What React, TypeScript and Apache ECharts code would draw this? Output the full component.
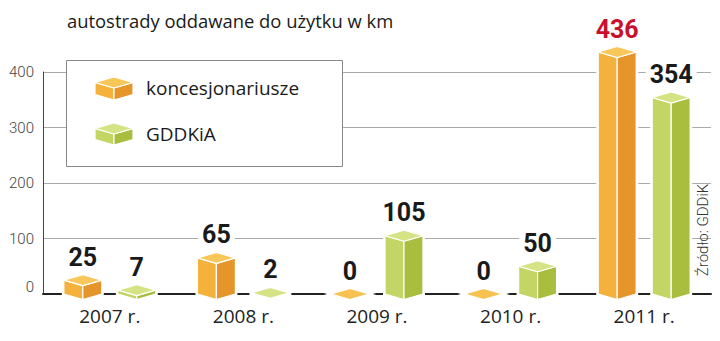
import React, { useEffect, useRef } from "react";
import * as echarts from "echarts";

const categories = ["2007 r.", "2008 r.", "2009 r.", "2010 r.", "2011 r."];
const koncesjonariusze = [25, 65, 0, 0, 436];
const gddkia = [7, 2, 105, 50, 354];
const yTicks = [0, 100, 200, 300, 400];
const highlightValue = 436;

const ORANGE = { top: "#F9C65A", left: "#F4B23C", right: "#E6952A", flat: "#F7C24F" };
const GREEN = { top: "#D5E384", left: "#C3D565", right: "#A9BD3F", flat: "#D4E48A" };
const FONT = "Roboto, 'Open Sans', sans-serif";
const TFONT = "'Open Sans', Roboto, sans-serif";

function boxShapes(cx: number, hw: number, dh: number, yt: number, yb: number, c: any, z?: number) {
  const flat = Math.abs(yb - yt) < 0.5;
  const zz = z === undefined ? {} : { z };
  const children: any[] = [
    {
      type: "polygon",
      ...zz,
      shape: {
        points: flat
          ? [[cx - hw, yt], [cx, yt - dh], [cx + hw, yt], [cx, yt + dh]]
          : [[cx - hw, yt], [cx, yt - dh], [cx + hw, yt], [cx + hw, yb], [cx, yb + dh], [cx - hw, yb]],
      },
      style: { fill: "#fff", stroke: "#fff", lineWidth: 4 },
    },
  ];
  if (!flat) {
    children.push({
      type: "polygon",
      ...zz,
      shape: { points: [[cx - hw, yt], [cx, yt + dh], [cx, yb + dh], [cx - hw, yb]] },
      style: { fill: c.left, stroke: "#fff", lineWidth: 1.2 },
    });
    children.push({
      type: "polygon",
      ...zz,
      shape: { points: [[cx, yt + dh], [cx + hw, yt], [cx + hw, yb], [cx, yb + dh]] },
      style: { fill: c.right, stroke: "#fff", lineWidth: 1.2 },
    });
  }
  children.push({
    type: "polygon",
    ...zz,
    shape: { points: [[cx - hw, yt], [cx, yt - dh], [cx + hw, yt], [cx, yt + dh]] },
    style: { fill: flat ? c.flat : c.top, stroke: "#fff", lineWidth: 1.2 },
  });
  return children;
}

function makeRender(offsetFrac: number, colors: any) {
  return (params: any, api: any) => {
    const xi = api.value(0);
    const v = api.value(1);
    const top = api.coord([xi, v]);
    const base = api.coord([xi, 0]);
    const band = api.size([1, 0])[0];
    const cx = top[0] + offsetFrac * band;
    const hw = band * 0.142;
    const dh = 5.5;
    const yt = top[1];
    const yb = base[1];
    const children = boxShapes(cx, hw, dh, yt, yb, colors);
    children.push({
      type: "text",
      style: {
        text: String(v),
        x: cx,
        y: yt - dh - 5,
        align: "center",
        verticalAlign: "bottom",
        fill: v === highlightValue ? "#C8102E" : "#1a1a1a",
        fontSize: 25,
        fontWeight: "bold",
        fontFamily: FONT,
        backgroundColor: "#fff",
        padding: [0, 4, 0, 4],
      },
    });
    return { type: "group", children };
  };
}

export default function App() {
  const ref = useRef<HTMLDivElement>(null);
  useEffect(() => {
    if (!ref.current) return;
    const chart = echarts.init(ref.current, null, { renderer: "svg" });
    const dh = 5.5;
    chart.setOption({
      animation: false,
      grid: { left: 43, right: 9, top: 72, bottom: 47 },
      xAxis: {
        type: "category",
        data: categories,
        axisLine: { show: true, lineStyle: { color: "#222", width: 2 } },
        axisTick: { show: false },
        axisLabel: { fontSize: 19, color: "#222", margin: 12, fontFamily: TFONT },
        splitLine: { show: false },
      },
      yAxis: {
        type: "value",
        min: yTicks[0],
        max: yTicks[yTicks.length - 1],
        interval: 100,
        axisLine: { show: true, lineStyle: { color: "#444", width: 1 } },
        axisTick: { show: false },
        splitLine: { show: true, lineStyle: { color: "#aaa", width: 1 } },
        axisLabel: {
          fontSize: 15,
          color: "#444",
          margin: 9,
          fontFamily: FONT,
          fontWeight: 300,
          formatter: (val: number) => (val === 0 ? "{z|0}" : String(val)),
          rich: { z: { fontSize: 15, color: "#444", fontWeight: 300, fontFamily: FONT, padding: [0, 0, 14, 0] } },
        },
      },
      series: [
        {
          type: "custom",
          name: "koncesjonariusze",
          data: koncesjonariusze.map((v, i) => [i, v]),
          encode: { x: 0, y: 1 },
          clip: false,
          renderItem: makeRender(-0.202, ORANGE),
        },
        {
          type: "custom",
          name: "GDDKiA",
          data: gddkia.map((v, i) => [i, v]),
          encode: { x: 0, y: 1 },
          clip: false,
          renderItem: makeRender(0.202, GREEN),
        },
      ],
      graphic: [
        {
          type: "text",
          left: 67,
          top: 11,
          style: { text: "autostrady oddawane do użytku w km", fontSize: 18.4, fill: "#1a1a1a", fontFamily: TFONT },
        },
        {
          type: "rect",
          z: 100,
          shape: { x: 66.5, y: 60.5, width: 276, height: 106 },
          style: { fill: "#fff", stroke: "#888", lineWidth: 1 },
        },
        ...boxShapes(114, 19, dh, 77 + dh, 100 - dh, ORANGE, 101),
        ...boxShapes(114, 19, dh, 123 + dh, 145 - dh, GREEN, 101),
        {
          type: "text",
          z: 101,
          x: 146,
          y: 88,
          style: { text: "koncesjonariusze", fontSize: 19, fill: "#1a1a1a", fontFamily: TFONT, verticalAlign: "middle" },
        },
        {
          type: "text",
          z: 101,
          x: 146,
          y: 134,
          style: { text: "GDDKiA", fontSize: 19, fill: "#1a1a1a", fontFamily: TFONT, verticalAlign: "middle" },
        },
        {
          type: "text",
          z: 101,
          x: 703,
          y: 230,
          rotation: Math.PI / 2,
          style: {
            text: "Źródło: GDDiK",
            fontSize: 15,
            fill: "#333",
            fontFamily: FONT,
            fontWeight: 300,
            align: "center",
            verticalAlign: "middle",
          },
        },
      ],
    });
    return () => chart.dispose();
  }, []);
  return <div ref={ref} style={{ width: 720, height: 341, margin: -8 }} />;
}
